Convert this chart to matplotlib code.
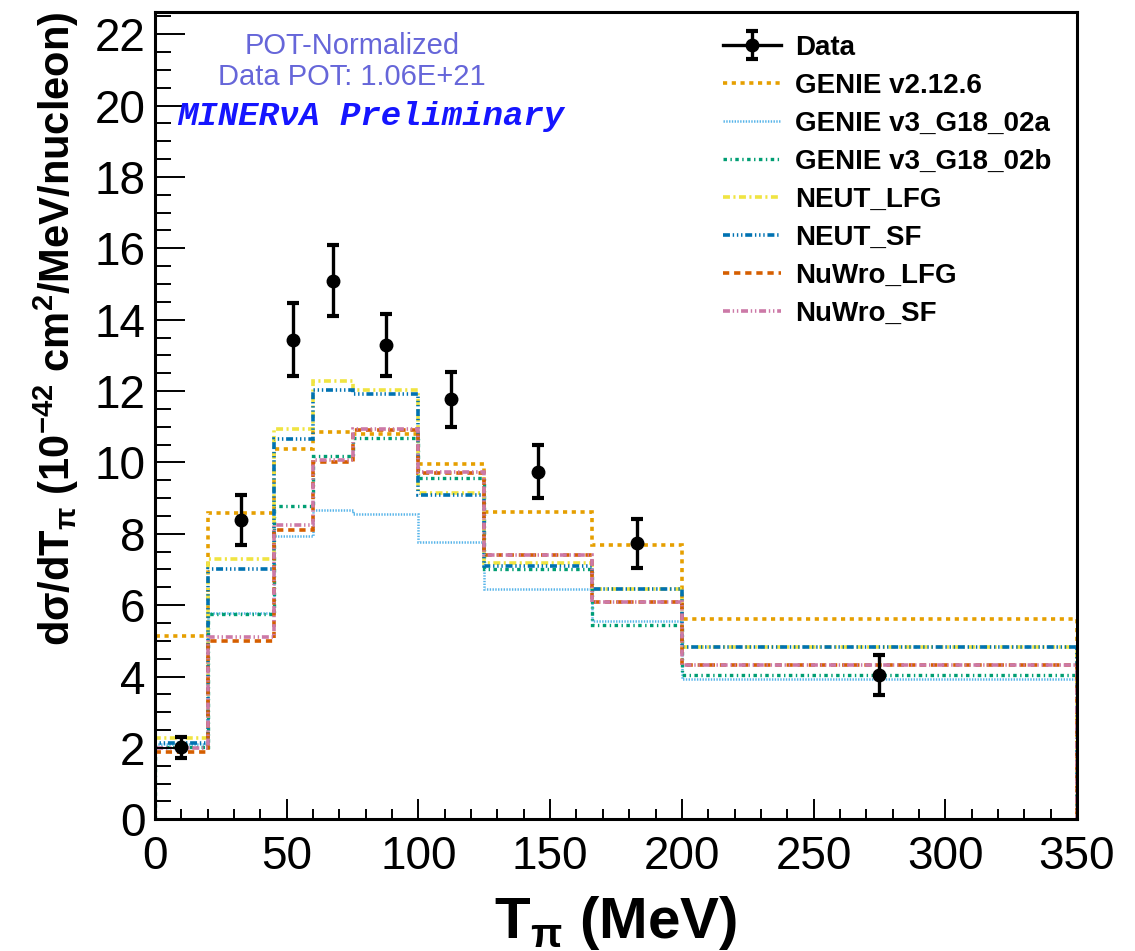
import matplotlib
matplotlib.use("Agg")
import matplotlib.pyplot as plt
from matplotlib.lines import Line2D
from matplotlib.ticker import MultipleLocator

plt.rcParams['font.family'] = ['Liberation Sans', 'DejaVu Sans']
plt.rcParams['lines.scale_dashes'] = False

# bin edges in MeV
edges = [0, 20, 45, 60, 75, 100, 125, 166, 200, 350]

# data points (bin centres), values and errors
data_x = [10, 32.5, 52.5, 67.5, 87.5, 112.5, 145.5, 183, 275]
data_y = [2.02, 8.39, 13.44, 15.09, 13.29, 11.77, 9.74, 7.73, 4.03]
data_err = [0.29, 0.69, 1.02, 1.00, 0.88, 0.77, 0.74, 0.69, 0.56]

# model predictions per bin
genie_v2 = [5.15, 8.59, 10.38, 10.85, 10.81, 9.96, 8.61, 7.70, 5.60]
genie_v3a = [2.10, 5.78, 7.95, 8.66, 8.56, 7.78, 6.46, 5.57, 3.92]
genie_v3b = [2.02, 5.74, 8.78, 10.18, 10.68, 9.57, 7.02, 5.44, 4.04]
neut_lfg = [2.29, 7.28, 10.95, 12.28, 12.04, 9.15, 7.19, 6.44, 4.83]
neut_sf = [2.15, 7.02, 10.67, 12.04, 11.92, 9.10, 7.10, 6.44, 4.83]
nuwro_lfg = [1.88, 5.00, 8.12, 10.01, 10.90, 9.69, 7.42, 6.09, 4.32]
nuwro_sf = [2.00, 5.12, 8.25, 10.08, 10.95, 9.73, 7.42, 6.09, 4.32]

models = [
    ("GENIE v2.12.6", genie_v2, '#E69F00', (0, (3, 3.3)), 2.6),
    ("GENIE v3_G18_02a", genie_v3a, '#56B4E9', (0, (1, 1)), 1.8),
    ("GENIE v3_G18_02b", genie_v3b, '#009E73', (0, (2.5, 2.5, 1, 2.5)), 2.4),
    ("NEUT_LFG", neut_lfg, '#F0E442', (0, (5, 2.5, 1.5, 2.5)), 2.6),
    ("NEUT_SF", neut_sf, '#0072B2', (0, (5, 2, 1, 2, 1, 2, 1, 2)), 2.6),
    ("NuWro_LFG", nuwro_lfg, '#D55E00', (0, (4.5, 3.5)), 2.6),
    ("NuWro_SF", nuwro_sf, '#CC79A7', (0, (5, 2, 1, 2, 1, 2)), 2.6),
]

fig = plt.figure(figsize=(11.35, 9.51), dpi=100)
ax = fig.add_axes([155 / 1135, 1 - 819.3 / 951, 922 / 1135, 807.6 / 951])

handles = []
for label, vals, color, ls, lw in models:
    ax.stairs(vals, edges, baseline=0, color=color, linestyle=ls, linewidth=lw)
    handles.append(Line2D([], [], color=color, linestyle=ls, linewidth=lw))

eb = ax.errorbar(data_x, data_y, yerr=data_err, fmt='o', color='black',
                 markersize=9, elinewidth=2.4, capsize=4, capthick=3, zorder=10)
data_handle = (Line2D([], [], color='black', linewidth=2.4), eb)

ax.set_xlim(0, 350)
ax.set_ylim(0, 22.63)
ax.xaxis.set_major_locator(MultipleLocator(50))
ax.xaxis.set_minor_locator(MultipleLocator(10))
ax.yaxis.set_major_locator(MultipleLocator(2))
ax.yaxis.set_minor_locator(MultipleLocator(0.5))
ax.tick_params(axis='both', which='both', direction='in', width=1.4, labelsize=33)
ax.tick_params(axis='y', which='major', length=21.6, pad=7)
ax.tick_params(axis='y', which='minor', length=11.5)
ax.tick_params(axis='x', which='major', length=14.4, pad=11)
ax.tick_params(axis='x', which='minor', length=7.2)
for sp in ax.spines.values():
    sp.set_linewidth(2.2)

ax.set_xlabel(r'T$_\mathregular{\pi}$ (MeV)', fontsize=42, fontweight='bold')
ax.xaxis.set_label_coords(0.5, -0.092)
ax.set_ylabel(r'd$\mathregular{\sigma}$/dT$_\mathregular{\pi}$ (10$^\mathregular{-42}$ cm$^\mathregular{2}$/MeV/nucleon)',
              fontsize=30, fontweight='bold', loc='top')
ax.yaxis.set_label_coords(-0.08, 1.0)

ax.text(352 / 1135, 1 - 46 / 951, 'POT-Normalized', transform=fig.transFigure,
        ha='center', va='center', fontsize=21, color='#6666D9')
ax.text(352 / 1135, 1 - 77 / 951, 'Data POT: 1.06E+21', transform=fig.transFigure,
        ha='center', va='center', fontsize=21, color='#6666D9')
ax.text(371 / 1135, 1 - 117 / 951, 'MINER\u03bdA Preliminary', transform=fig.transFigure,
        ha='center', va='center', fontsize=24.5, color='#1515FF',
        family='Liberation Mono', fontweight='bold', fontstyle='italic')

labels = ["Data"] + [m[0] for m in models]
leg = ax.legend([data_handle] + handles, labels, loc='upper left',
                bbox_to_anchor=(723 / 1135, 1 - 35 / 951), bbox_transform=fig.transFigure,
                frameon=False, prop={'weight': 'bold', 'size': 20},
                handlelength=2.1, handletextpad=0.5, labelspacing=0.43,
                borderaxespad=0, borderpad=0)

fig.savefig('out.png', dpi=100)
